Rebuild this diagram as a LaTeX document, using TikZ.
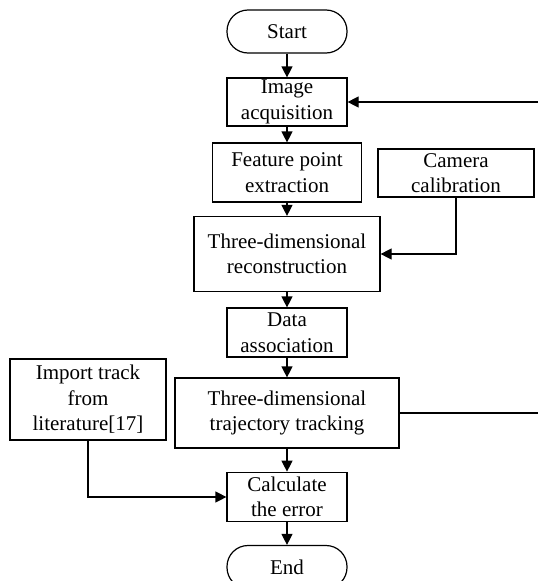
\documentclass[tikz,border=0pt]{standalone}
\usepackage{fontspec}
\setmainfont{Liberation Serif}
\usetikzlibrary{arrows.meta}

\tikzset{
  box/.style={draw, line width=1.2pt, inner sep=0pt, align=center,
    font=\fontsize{21}{25.5}\selectfont},
  term/.style={box, rounded corners=21pt},
  flow/.style={draw, line width=1.2pt, -{Triangle[length=11pt,width=11pt]}}
}

\begin{document}
\begin{tikzpicture}[x=1pt, y=-1pt]
  \useasboundingbox (0,0) rectangle (538,581);
  % main column
  \node[term, minimum width=120pt, minimum height=43pt] (start) at (287,31.5) {Start};
  \node[box, minimum width=120pt, minimum height=48pt] (acq) at (287,102) {Image\\acquisition};
  \node[box, minimum width=149pt, minimum height=59pt] (feat) at (287,172.5) {Feature point\\extraction};
  \node[box, minimum width=186pt, minimum height=75pt] (recon) at (287,254) {Three-dimensional\\reconstruction};
  \node[box, minimum width=120pt, minimum height=49pt] (assoc) at (287,332.5) {Data\\association};
  \node[box, minimum width=224pt, minimum height=70pt] (track) at (287,413) {Three-dimensional\\trajectory tracking};
  \node[box, minimum width=120pt, minimum height=49.5pt] (calc) at (287,497) {Calculate\\the error};
  \node[term, minimum width=120pt, minimum height=43pt] (end) at (287,567) {End};
  % side boxes
  \node[box, minimum width=156pt, minimum height=48pt] (calib) at (456,173) {Camera\\calibration};
  \node[box, minimum width=156pt, minimum height=81pt] (imp) at (88,399.5) {Import track\\from\\literature[17]};

  \draw[flow] (start) -- (acq);
  \draw[flow] (acq) -- (feat);
  \draw[flow] (feat) -- (recon);
  \draw[flow] (recon) -- (assoc);
  \draw[flow] (assoc) -- (track);
  \draw[flow] (track) -- (calc);
  \draw[flow] (calc) -- (end);
  \draw[flow] (calib.south) |- (recon.east);
  \draw[flow] (imp.south) |- (calc.west);
  % loop back, its vertical leg lies past the page edge
  \coordinate (rb) at (541,413);
  \coordinate (rt) at (541,102);
  \draw[flow] (track.east) -- (rb) -- (rt) -- (acq.east);
\end{tikzpicture}
\end{document}
